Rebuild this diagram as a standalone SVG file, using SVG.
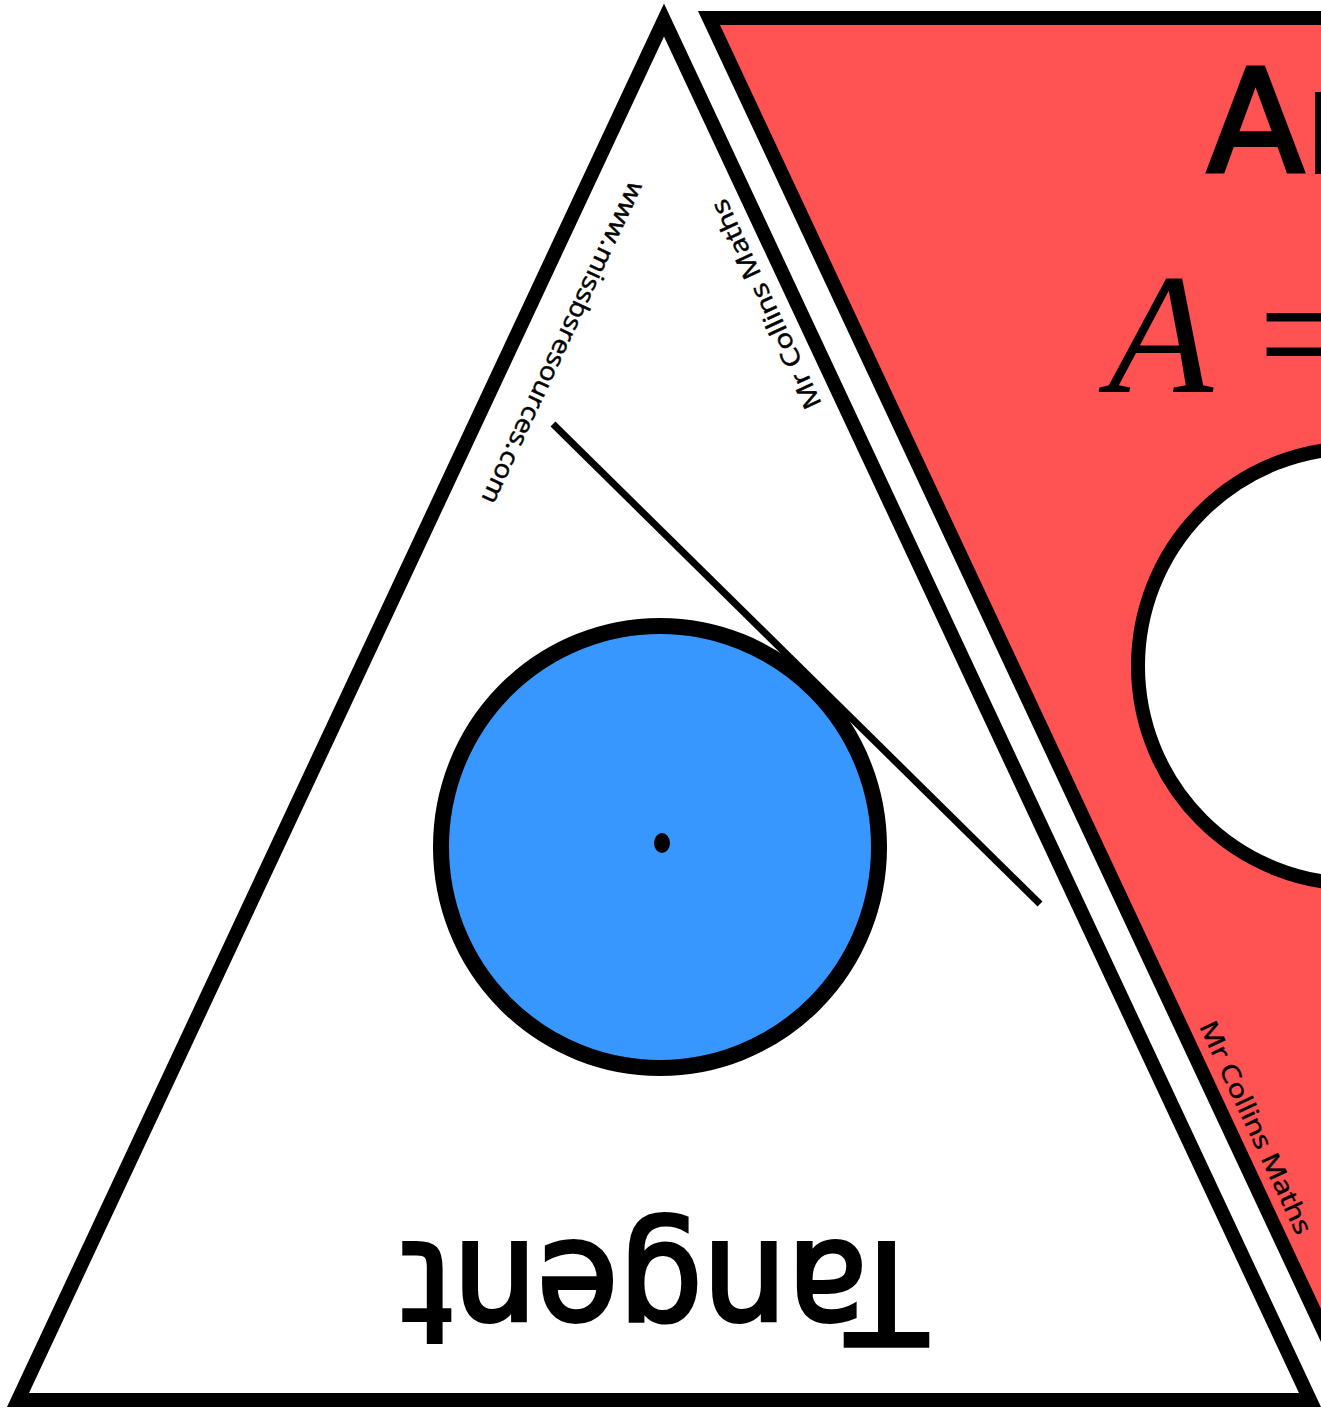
<svg xmlns="http://www.w3.org/2000/svg" width="1321" height="1411" viewBox="0 0 1321 1411">
<style>
.edge{stroke:#000;stroke-width:14;stroke-linejoin:miter;stroke-miterlimit:10}
.small{font-family:"Open Sans","DejaVu Sans",sans-serif;fill:#000;stroke:#000;stroke-width:0.5}
.hand{font-family:"DejaVu Sans","Open Sans",sans-serif;fill:#000}
</style>
<rect width="1321" height="1411" fill="#fff"/>
<g id="red-triangle">
<polygon class="edge" points="709,18 2001,18 1355,1398" fill="#FF5252"/>
<circle cx="1356" cy="666" r="218" fill="#fff" stroke="#000" stroke-width="14"/>
<text class="hand" x="1207" y="172" font-size="142" stroke="#000" stroke-width="4">Ar</text>
<text x="1108" y="392" font-family="Liberation Serif,serif" font-style="italic" font-size="172" fill="#000">A</text>
<text x="1258" y="392" font-family="Liberation Serif,serif" font-size="172" fill="#000">=</text>
<text class="small" font-size="25" transform="translate(1199,1026) rotate(65)" textLength="232" lengthAdjust="spacingAndGlyphs">Mr Collins Maths</text>
</g>
<g id="white-triangle">
<polygon class="edge" points="664,20 18,1400 1310,1400" fill="#fff"/>
<text class="small" font-size="25" transform="translate(630,180) rotate(115)" textLength="352" lengthAdjust="spacingAndGlyphs">www.missbsresources.com</text>
<text class="small" font-size="25" transform="translate(822,404) rotate(-115)" textLength="228" lengthAdjust="spacingAndGlyphs">Mr Collins Maths</text>
</g>
<g id="connectors">
<line x1="553" y1="424" x2="1040" y2="904" stroke="#000" stroke-width="7"/>
</g>
<g id="circle">
<ellipse cx="660" cy="847" rx="219" ry="221" fill="#3797FF" stroke="#000" stroke-width="16"/>
<ellipse cx="662" cy="843" rx="8" ry="10" fill="#000"/>
</g>
<g id="label">
<text class="hand" font-size="140" text-anchor="middle" stroke="#000" stroke-width="4" transform="translate(664,1243) rotate(180)" textLength="526" lengthAdjust="spacingAndGlyphs">Tangent</text>
</g>
</svg>
